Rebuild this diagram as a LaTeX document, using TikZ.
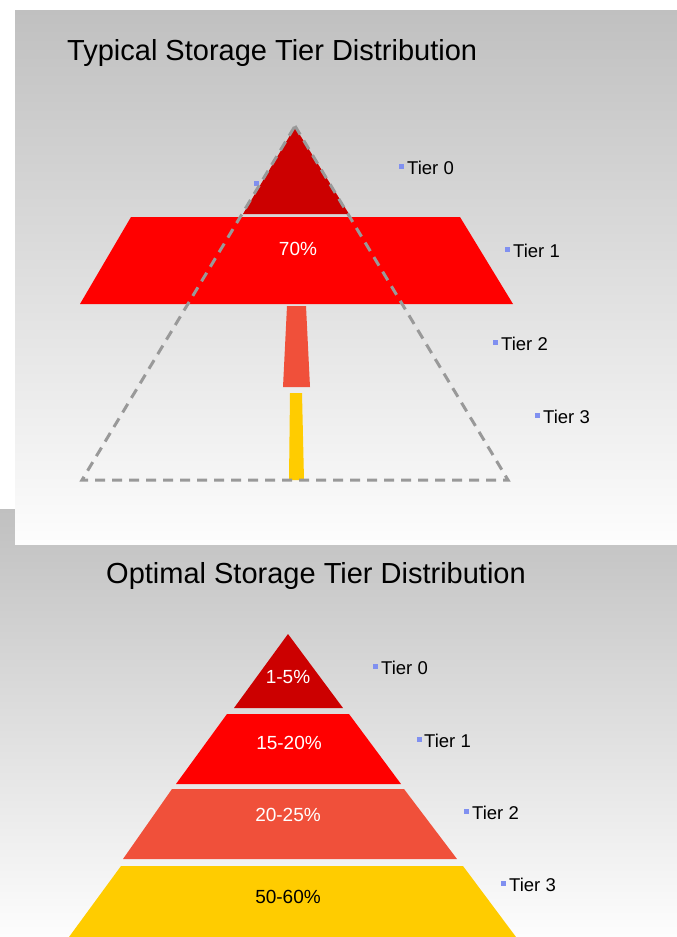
\documentclass[tikz,border=0pt]{standalone}
\usepackage{fontspec}
\setmainfont{Liberation Sans}
\definecolor{tzero}{HTML}{CC0000}
\definecolor{tone}{HTML}{FF0000}
\definecolor{ttwo}{HTML}{F0503A}
\definecolor{tthree}{HTML}{FFCC00}
\definecolor{bulletblue}{RGB}{128,144,240}
\definecolor{bgtop}{HTML}{C0C0C0}
\definecolor{bgbot}{HTML}{FDFDFD}
\definecolor{dashgray}{HTML}{999999}
\begin{document}
\begin{tikzpicture}[x=1pt,y=-1pt,
  tierlbl/.style={anchor=base west, font=\fontsize{18.5}{20}\selectfont, inner sep=0pt, text=black},
  bulletsq/.style={fill=bulletblue, minimum size=5pt, inner sep=0pt, draw=none},
  pct/.style={font=\fontsize{19}{21}\selectfont, text=white, inner sep=0pt},
  ttl/.style={anchor=base west, font=\fontsize{29}{32}\selectfont, inner sep=0pt, text=black},
  dashline/.style={draw=dashgray, line width=3pt, dash pattern=on 10pt off 7pt}]
\useasboundingbox (0,0) rectangle (677,937);
\fill[white] (0,0) rectangle (677,937);
% bottom panel background
\shade[top color=bgtop, bottom color=bgbot] (0,509) rectangle (677,937);
% top panel background
\shade[top color=bgtop, bottom color=bgbot] (15,10) rectangle (677,544);

% ---------- top panel ----------
\node[ttl] (ttitle) at (67,60) {Typical Storage Tier Distribution};
\node[bulletsq] (hsq) at (256.5,183.5) {};
\fill[tzero] (295,127) -- (349,214) -- (243,214) -- cycle;
\fill[tone] (131,217) -- (460,217) -- (513,304) -- (80,304) -- cycle;
\fill[ttwo] (287,306) -- (306,306) -- (310,387) -- (283,387) -- cycle;
\fill[tthree] (290,393) -- (302,393) -- (304,480) -- (289,480) -- cycle;
\draw[dashline] (295,126) -- (508,480) -- (82,480) -- cycle;
\node[pct] (p70) at (298,249) {70\%};

\node[bulletsq] (ts0) at (401.5,166.5) {};
\node[tierlbl] (tl0) at (407,174) {Tier 0};
\node[bulletsq] (ts1) at (507.5,249.5) {};
\node[tierlbl] (tl1) at (513,257) {Tier 1};
\node[bulletsq] (ts2) at (495.5,342.5) {};
\node[tierlbl] (tl2) at (501,350) {Tier 2};
\node[bulletsq] (ts3) at (537.5,415.5) {};
\node[tierlbl] (tl3) at (543,423) {Tier 3};

% ---------- bottom panel ----------
\node[ttl] (btitle) at (106,583) {Optimal Storage Tier Distribution};
\fill[tzero] (288,634) -- (343,708) -- (234,708) -- cycle;
\fill[tone] (227,714) -- (349,714) -- (401,784) -- (176,784) -- cycle;
\fill[ttwo] (172,789) -- (404,789) -- (457,859) -- (123,859) -- cycle;
\fill[tthree] (121,866) -- (463,866) -- (516,937) -- (69,937) -- cycle;
\node[pct] (p0) at (288,677) {1-5\%};
\node[pct] (p1) at (289,743) {15-20\%};
\node[pct] (p2) at (288,815) {20-25\%};
\node[pct, text=black] (p3) at (288,897) {50-60\%};

\node[bulletsq] (bs0) at (375.5,666.5) {};
\node[tierlbl] (bl0) at (381,674) {Tier 0};
\node[bulletsq] (bs1) at (419.5,739.5) {};
\node[tierlbl] (bl1) at (424,747) {Tier 1};
\node[bulletsq] (bs2) at (466.5,811.5) {};
\node[tierlbl] (bl2) at (472,819) {Tier 2};
\node[bulletsq] (bs3) at (503.5,883.5) {};
\node[tierlbl] (bl3) at (509,891) {Tier 3};
\end{tikzpicture}
\end{document}
